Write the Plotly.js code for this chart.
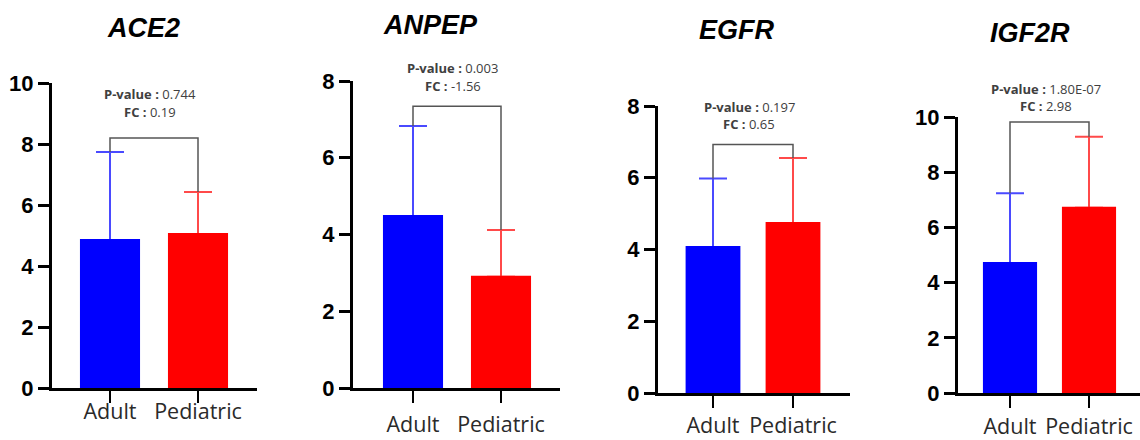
<!DOCTYPE html>
<html>
<head>
<meta charset="utf-8">
<script src="https://cdn.plot.ly/plotly-3.0.1.min.js"></script>
<style>html,body{margin:0;padding:0;background:#fff;} #chart{width:1140px;height:440px;}</style>
</head>
<body>
<div id="chart"></div>
<script>
// ---- data ----
const genes = ['ACE2', 'ANPEP', 'EGFR', 'IGF2R'];
const groups = ['Adult', 'Pediatric'];
const adultMean = [4.85, 4.48, 4.07, 4.71];
const adultSD = [2.89, 2.35, 1.91, 2.53];
const pedMean = [5.05, 2.90, 4.74, 6.71];
const pedSD = [1.38, 1.22, 1.81, 2.57];
const bracketY = [8.2, 7.34, 6.93, 9.82];
const pValues = ['0.744', '0.003', '0.197', '1.80E-07'];
const foldChanges = ['0.19', '-1.56', '0.65', '2.98'];
const yMax = [10, 8, 8, 10];

// ---- layout geometry (pixels) ----
const W = 1140, H = 440;
const panels = [
  {xl: 52, xr: 257, c0: 110, c1: 198, yb: 388, yt: 83, title: [143, 28], ann: [94, 112], stand: -10},
  {xl: 353, xr: 560, c0: 413, c1: 501, yb: 388, yt: 81, title: [430, 25], ann: [68, 86], stand: 3},
  {xl: 658, xr: 850, c0: 713, c1: 793, yb: 393, yt: 106, title: [737, 30], ann: [107, 124], stand: -1},
  {xl: 958, xr: 1140, c0: 1010, c1: 1089, yb: 393, yt: 117, title: [1030, 33], ann: [89, 106], stand: 0}
];
const barWidth = 0.66;
const blue = '#0000ff', red = '#ff0000';
const blueErr = '#4a4aff', redErr = '#ff4a4a';

const traces = [];
const layout = {
  width: W, height: H,
  margin: {l: 0, r: 0, t: 0, b: 0},
  paper_bgcolor: '#fff', plot_bgcolor: '#fff',
  showlegend: false, barmode: 'overlay',
  shapes: [], annotations: []
};

panels.forEach((p, i) => {
  const n = i + 1;
  const xa = n === 1 ? 'x' : 'x' + n;
  const ya = n === 1 ? 'y' : 'y' + n;
  const sp = p.c1 - p.c0;
  const r0 = -(p.c0 - p.xl) / sp;
  const r1 = 1 + (p.xr - p.c1) / sp;
  const series = [
    {x: 0, m: adultMean[i], sd: adultSD[i], c: blue, ec: blueErr, name: groups[0]},
    {x: 1, m: pedMean[i], sd: pedSD[i], c: red, ec: redErr, name: groups[1]}
  ];
  // error bars (upper only), drawn first so bars cover the lower cap
  series.forEach(s => {
    traces.push({
      type: 'bar', x: [s.x], y: [s.m], width: barWidth,
      marker: {color: 'rgba(0,0,0,0)', line: {width: 0}}, xaxis: xa, yaxis: ya, name: s.name,
      error_y: {type: 'data', symmetric: false, array: [s.sd], arrayminus: [0],
        color: s.ec, thickness: 2, width: 14}
    });
  });
  series.forEach(s => {
    traces.push({
      type: 'bar', x: [s.x], y: [s.m], width: barWidth,
      marker: {color: s.c, line: {width: 2, color: s.c}}, xaxis: xa, yaxis: ya, name: s.name
    });
  });
  layout['xaxis' + (n === 1 ? '' : n)] = {
    domain: [p.xl / W, p.xr / W], anchor: ya, range: [r0, r1],
    tickvals: [0, 1], ticktext: groups, ticks: 'outside', ticklen: 12, tickwidth: 2.5,
    tickcolor: '#000', showline: true, linewidth: 3, linecolor: '#000',
    showgrid: false, zeroline: false, fixedrange: true, ticklabelstandoff: p.stand,
    tickfont: {family: 'Open Sans, Liberation Sans, sans-serif', size: 21.5, color: '#2a2a2a'}
  };
  layout['yaxis' + (n === 1 ? '' : n)] = {
    domain: [(H - p.yb) / H, (H - p.yt) / H], anchor: xa, range: [0, yMax[i]],
    dtick: 2, tick0: 0, ticks: 'outside', ticklen: 11, tickwidth: 3, tickcolor: '#000',
    showline: true, linewidth: 3, linecolor: '#000', showgrid: false, zeroline: false,
    fixedrange: true,
    tickfont: {family: 'Liberation Sans, Arial, sans-serif', size: 22, color: '#000', weight: 'bold'}
  };
  // significance bracket
  const a = adultMean[i] + adultSD[i], b = pedMean[i] + pedSD[i];
  layout.shapes.push({
    type: 'path', xref: xa, yref: ya,
    path: `M 0,${a} L 0,${bracketY[i]} L 1,${bracketY[i]} L 1,${b}`,
    line: {color: '#555', width: 1.5}, layer: 'above'
  });
  // title
  layout.annotations.push({
    xref: 'paper', yref: 'paper', x: p.title[0] / W, y: (H - p.title[1]) / H,
    xanchor: 'center', yanchor: 'middle', showarrow: false,
    text: '<b><i>' + genes[i] + '</i></b>',
    font: {family: 'Liberation Sans, Arial, sans-serif', size: 27, color: '#000'}
  });
  layout.annotations.push({
    xref: xa, yref: 'paper', x: 0.45, y: (H - p.ann[0]) / H,
    xanchor: 'center', yanchor: 'middle', showarrow: false,
    text: '<b>P-value :</b> ' + pValues[i],
    font: {family: 'Open Sans, sans-serif', size: 13, color: '#404040'}
  });
  layout.annotations.push({
    xref: xa, yref: 'paper', x: 0.45, y: (H - p.ann[1]) / H,
    xanchor: 'center', yanchor: 'middle', showarrow: false,
    text: '<b>FC :</b> ' + foldChanges[i],
    font: {family: 'Open Sans, sans-serif', size: 13, color: '#404040'}
  });
});

Plotly.newPlot('chart', traces, layout, {displayModeBar: false, staticPlot: true});
</script>
</body>
</html>
